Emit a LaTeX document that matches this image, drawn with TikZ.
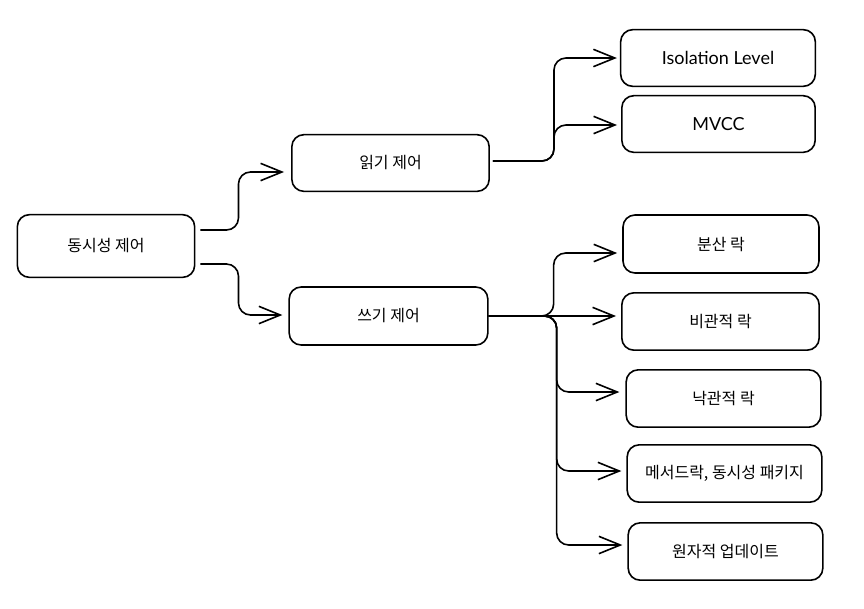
\documentclass[tikz,border=0pt]{standalone}
\usepackage{fontspec}
\setmainfont{Noto Sans CJK KR}
\newfontfamily\latinfont{Lato}
\usepackage{tikz}
\usetikzlibrary{
  calc,        % Coordinate math
  arrows.meta  % Open chevron arrow tips
}

\begin{document}
\begin{tikzpicture}[x=0.75pt, y=-0.75pt,
    box/.style={draw, line width=1.2pt, rounded corners=9pt,
      minimum width=146pt, minimum height=42.5pt,
      font=\fontsize{12}{14}\selectfont},
    latinbox/.style={box, font=\latinfont\fontsize{13.5}{16}\selectfont},
    conn/.style={line width=1.2pt, rounded corners=9pt,
      -{Straight Barb[length=16pt, width=13pt, line width=1.2pt]}}]
  \useasboundingbox (0,0) rectangle (864,608);

  % Root box and its two children
  \node[box, minimum width=133pt, minimum height=47pt] (root) at (106,246) {동시성 제어};
  \node[box, minimum width=148pt] (read) at (390.5,163) {읽기 제어};
  \node[box, minimum width=149pt, minimum height=43.5pt] (write) at (388.5,316) {쓰기 제어};

  % Leaves of the read side
  \node[latinbox] (iso) at (718,58) {Isolation Level};
  \node[latinbox, minimum width=145pt] (mvcc) at (718.5,124) {MVCC};

  % Leaves of the write side
  \node[box, minimum width=147pt, minimum height=43.5pt] (dist) at (721,244) {분산 락};
  \node[box, minimum width=148pt, minimum height=43pt] (pess) at (720.5,321.5) {비관적 락};
  \node[box, minimum width=146pt, minimum height=43pt] (opt) at (723.5,398.5) {낙관적 락};
  \node[box, minimum width=146pt, minimum height=43pt] (meth) at (724.5,473.5) {메서드락, 동시성 패키지};
  \node[box, minimum width=146pt, minimum height=43pt] (atom) at (725.5,551.5) {원자적 업데이트};

  % Root to read / write
  \draw[conn] ([shift={(5,-16)}]root.east) -- ++(38,0) |- ([shift={(-7,9)}]read.west);
  \draw[conn] ([shift={(5,18)}]root.east) -- ++(38,0) |- ([shift={(-6,-1)}]write.west);

  % Read fork
  \draw[conn] ([shift={(3,-2)}]read.east) -- ++(61,0) |- ([shift={(-3,0)}]iso.west);
  \draw[conn] ([shift={(3,-2)}]read.east) -- ++(61,0) |- ([shift={(-4,1)}]mvcc.west);

  % Write fork
  \draw[conn] (write.east) -- ++(65,0) |- ([shift={(-5,9)}]dist.west);
  \draw[conn] (write.east) -- ([shift={(-5,-5.5)}]pess.west);
  \draw[conn] (write.east) -- ++(68,0) |- ([shift={(-6,-6.5)}]opt.west);
  \draw[conn] (write.east) -- ++(68,0) |- ([shift={(-5,-2.5)}]meth.west);
  \draw[conn] (write.east) -- ++(68,0) |- ([shift={(-5,-6.5)}]atom.west);
\end{tikzpicture}
\end{document}
